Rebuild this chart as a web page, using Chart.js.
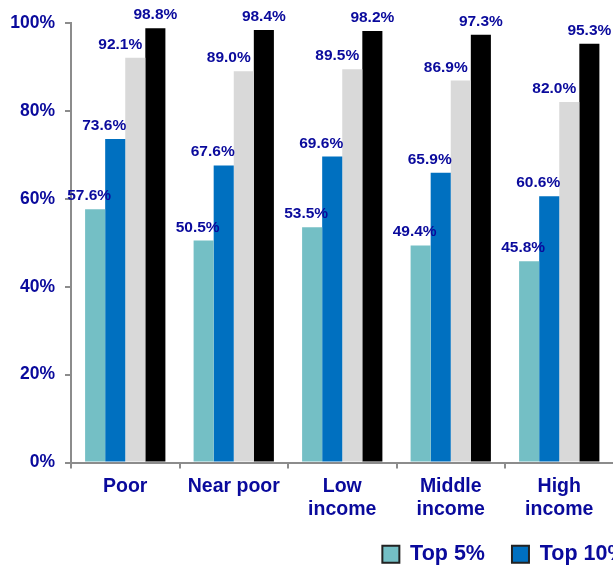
<!DOCTYPE html>
<html>
<head>
<meta charset="utf-8">
<script src="https://cdn.jsdelivr.net/npm/chart.js@4.4.1/dist/chart.umd.min.js"></script>
<style>
  body { margin: 0; background: #fff; }
  #wrap { width: 613px; height: 568px; overflow: hidden; position: relative; }
  #chart { position: absolute; left: 0; top: 0; }
</style>
</head>
<body>
<div id="wrap"><canvas id="chart" width="1292" height="575"></canvas></div>
<script>
var categories = ['Poor', 'Near poor', ['Low', 'income'], ['Middle', 'income'], ['High', 'income']];
var seriesNames = ['Top 5%', 'Top 10%', 'Top 25%', 'Top 50%'];
var top5 = [57.6, 50.5, 53.5, 49.4, 45.8];
var top10 = [73.6, 67.6, 69.6, 65.9, 60.6];
var top25 = [92.1, 89.0, 89.5, 86.9, 82.0];
var top50 = [98.8, 98.4, 98.2, 97.3, 95.3];
var yTicks = [0, 20, 40, 60, 80, 100];

var navy = '#0a0a9c';
var axisGray = '#8c8c8c';
var colors = ['#74bfc5', '#0070c0', '#d9d9d9', '#000000'];
var labelShift = [-6, -11, -15, 0];

var barLabels = {
  id: 'barLabels',
  afterDatasetsDraw: function(chart){
    var ctx = chart.ctx;
    ctx.save();
    ctx.font = 'bold 15.5px "Liberation Sans", Arial, sans-serif';
    ctx.fillStyle = navy;
    ctx.textAlign = 'center';
    ctx.textBaseline = 'alphabetic';
    chart.data.datasets.forEach(function(ds, i){
      chart.getDatasetMeta(i).data.forEach(function(bar, j){
        ctx.fillText(ds.data[j].toFixed(1) + '%', bar.x + labelShift[i], bar.y - 9);
      });
    });
    ctx.restore();
  }
};

var ctx = document.getElementById('chart').getContext('2d');
new Chart(ctx, {
  type: 'bar',
  data: {
    labels: categories,
    datasets: [top5, top10, top25, top50].map(function(d, i){
      return {
        label: seriesNames[i],
        data: d,
        backgroundColor: colors[i],
        borderWidth: 0,
        categoryPercentage: 0.74,
        barPercentage: 1.0
      };
    })
  },
  options: {
    responsive: false,
    animation: false,
    layout: { padding: { top: 23, left: 0, right: 0, bottom: 0 } },
    plugins: {
      tooltip: { enabled: false },
      legend: {
        position: 'bottom',
        labels: {
          boxWidth: 17,
          boxHeight: 17,
          padding: 27,
          color: navy,
          font: { family: '"Liberation Sans", Arial, sans-serif', size: 21.5, weight: 'bold' },
          generateLabels: function(chart){
            return Chart.defaults.plugins.legend.labels.generateLabels(chart).map(function(item){
              item.strokeStyle = '#222222';
              item.lineWidth = 2;
              return item;
            });
          }
        }
      }
    },
    scales: {
      x: {
        grid: { drawOnChartArea: false, drawTicks: true, tickLength: 6, color: axisGray, lineWidth: 2 },
        border: { color: axisGray, width: 2 },
        ticks: {
          color: navy,
          padding: 7,
          font: { family: '"Liberation Sans", Arial, sans-serif', size: 19.5, weight: 'bold', lineHeight: 1.18 }
        },
        afterFit: function(scale){ scale.height = 54; }
      },
      y: {
        min: 0,
        max: 100,
        afterBuildTicks: function(scale){
          scale.ticks = yTicks.map(function(v){ return { value: v }; });
        },
        grid: { drawOnChartArea: false, drawTicks: true, tickLength: 6, color: axisGray, lineWidth: 2 },
        border: { color: axisGray, width: 2 },
        ticks: {
          color: navy,
          padding: 10,
          font: { family: '"Liberation Sans", Arial, sans-serif', size: 17.5, weight: 'bold' },
          callback: function(v){ return v + '%'; }
        },
        afterFit: function(scale){ scale.width = 71; }
      },
      spare: {
        position: 'right',
        display: true,
        grid: { display: false },
        border: { display: false },
        ticks: { display: false },
        afterFit: function(scale){ scale.width = 1292 - 613.5; }
      }
    }
  },
  plugins: [barLabels]
});
</script>
</body>
</html>
